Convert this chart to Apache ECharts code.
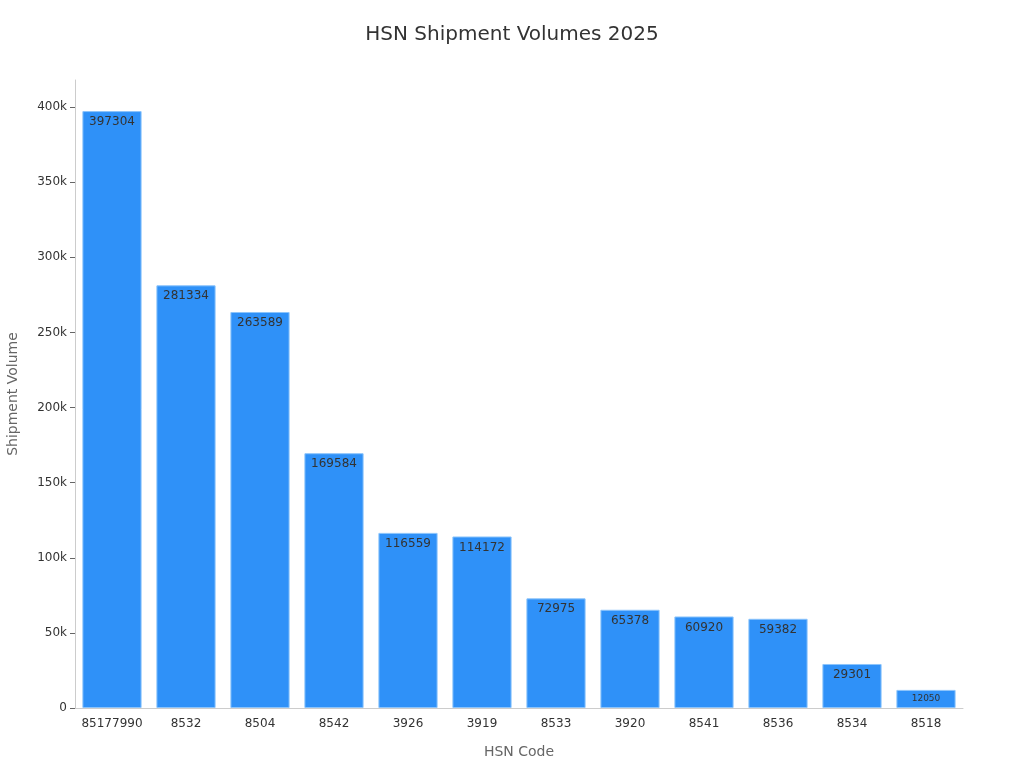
<!DOCTYPE html>
<html>
<head>
<meta charset="utf-8">
<script src="https://cdn.jsdelivr.net/npm/echarts@6/dist/echarts.min.js"></script>
<style>html,body{margin:0;padding:0;background:#fff}#c{width:1024px;height:768px}</style>
</head>
<body>
<div id="c"></div>
<script>
const categories = ["85177990","8532","8504","8542","3926","3919","8533","3920","8541","8536","8534","8518"];
const values = [397304,281334,263589,169584,116559,114172,72975,65378,60920,59382,29301,12050];
const title = "HSN Shipment Volumes 2025";

const chart = echarts.init(document.getElementById('c'));
const font = 'DejaVu Sans';
chart.setOption({
  backgroundColor: '#fff',
  textStyle: { fontFamily: font },
  title: { text: title, left: 'center', top: 20, textStyle: { fontFamily: font, fontSize: 20, fontWeight: 'normal', color: '#333' } },
  grid: { left: 75, right: 61, top: 80, bottom: 60, containLabel: false, outerBoundsMode: 'none' },
  xAxis: {
    type: 'category', data: categories,
    name: 'HSN Code', nameLocation: 'middle', nameGap: 37,
    nameTextStyle: { fontFamily: font, fontSize: 14, color: '#666' },
    axisLine: { lineStyle: { color: '#ccc' } },
    axisTick: { alignWithLabel: true, lineStyle: { color: '#999' } },
    axisLabel: { interval: 0, fontFamily: font, fontSize: 12, color: '#333', margin: 10 }
  },
  yAxis: {
    type: 'value', min: 0, max: 418000, interval: 50000,
    name: 'Shipment Volume', nameLocation: 'middle', nameGap: 55,
    nameTextStyle: { fontFamily: font, fontSize: 14, color: '#666' },
    axisLine: { show: true, lineStyle: { color: '#ccc' } },
    axisTick: { show: true, lineStyle: { color: '#666' } },
    splitLine: { show: false },
    axisLabel: { fontFamily: font, fontSize: 12, color: '#333', showMaxLabel: false,
      formatter: v => v === 0 ? '0' : (v / 1000) + 'k' }
  },
  series: [{
    type: 'bar', barCategoryGap: '20%',
    data: values.map((v, i) => i === values.length - 1 ? { value: v, label: { fontSize: 9, distance: 4 } } : v),
    itemStyle: { color: '#2f91f8', borderColor: '#8cc4fb', borderWidth: 1 },
    label: { show: true, position: 'insideTop', fontFamily: font, fontSize: 12, color: '#333', distance: 5 }
  }]
});
</script>
</body>
</html>
